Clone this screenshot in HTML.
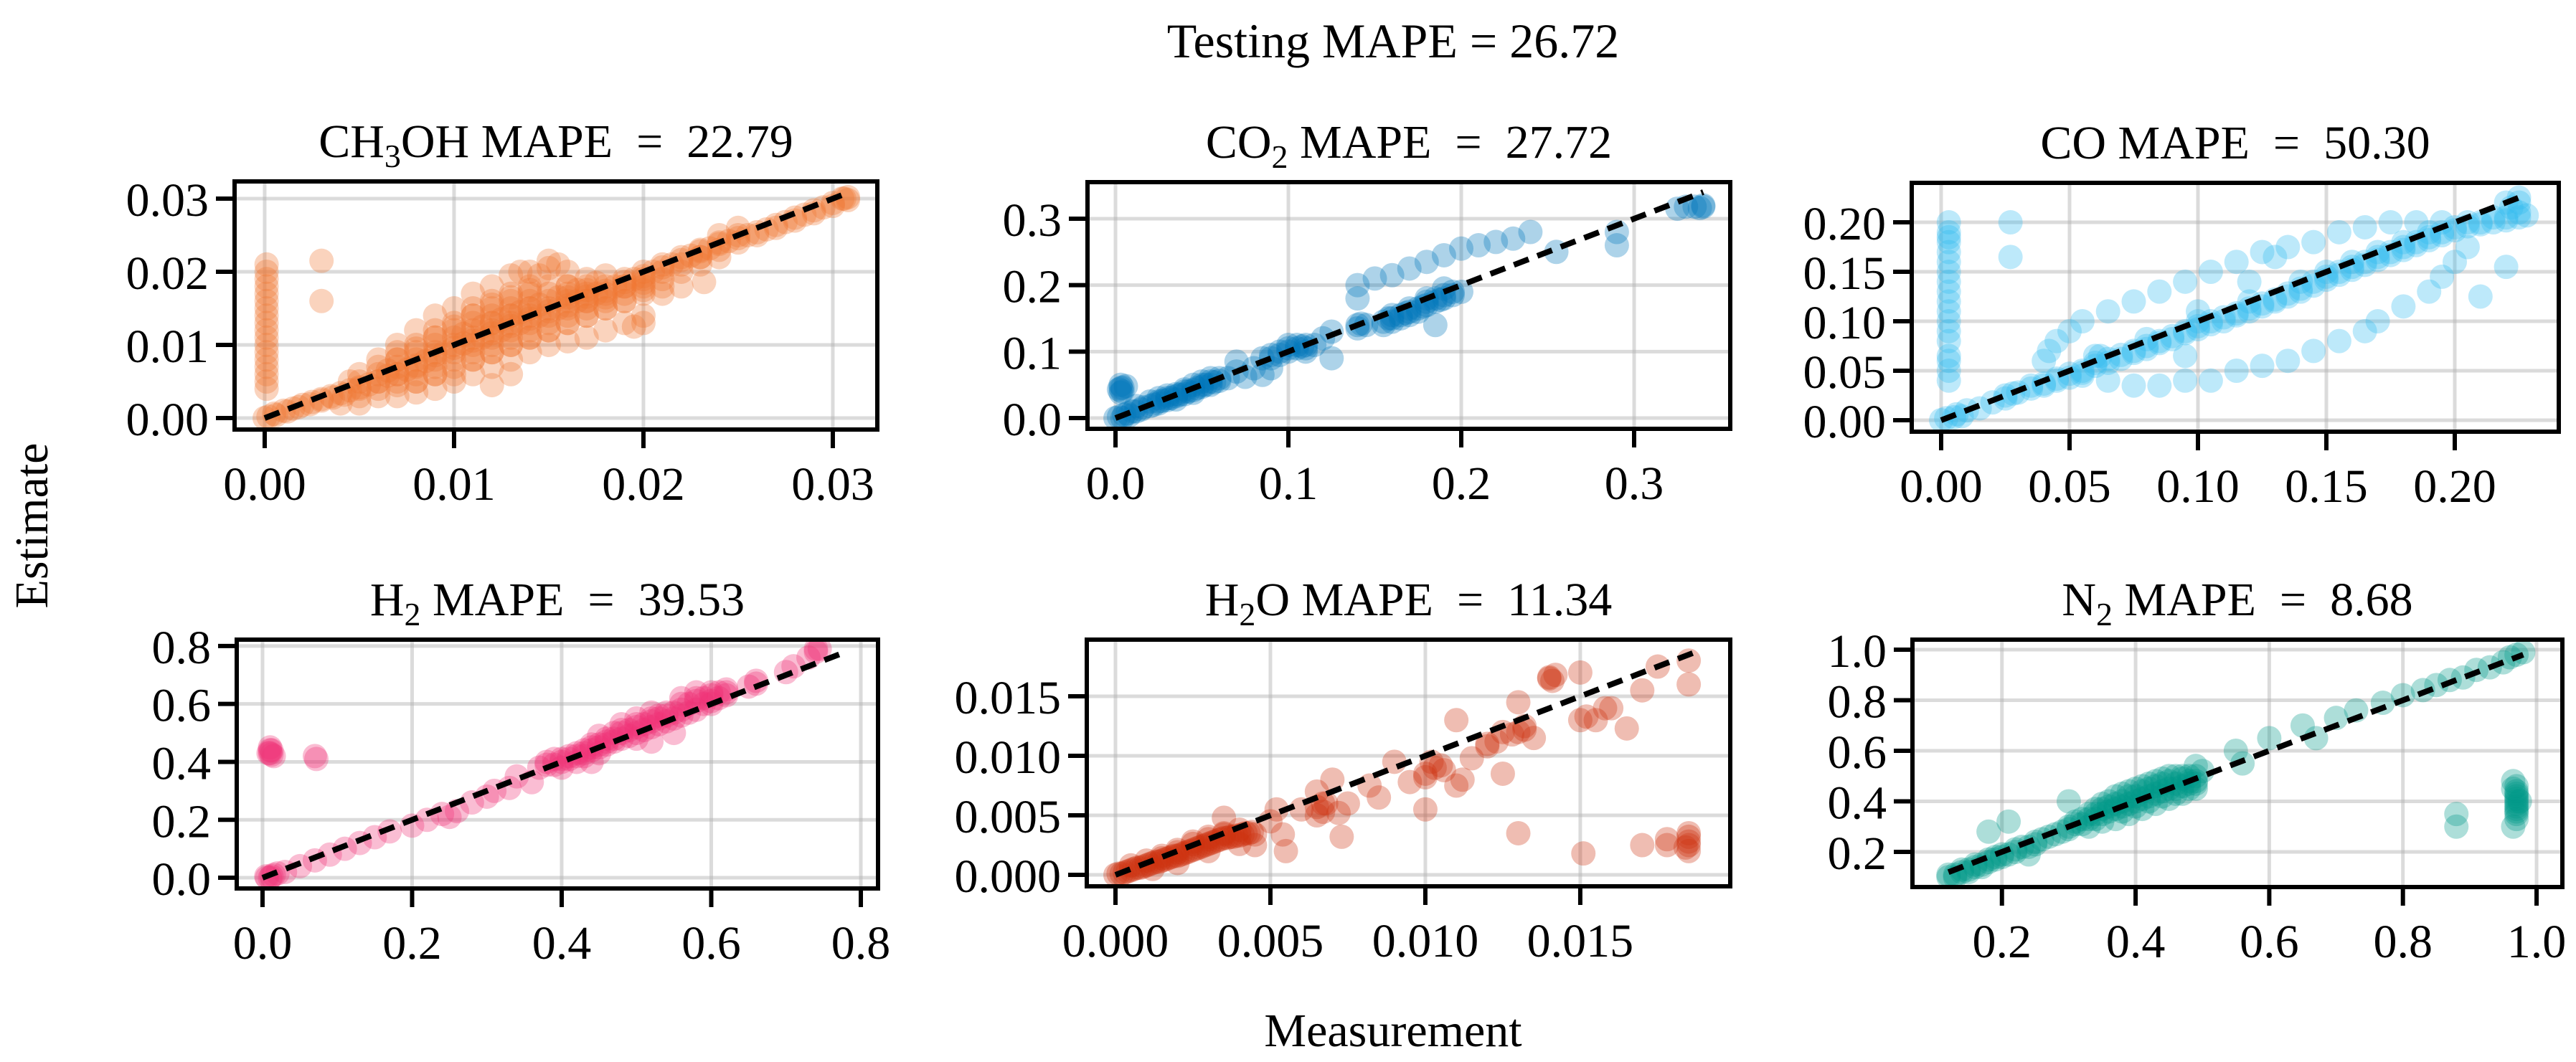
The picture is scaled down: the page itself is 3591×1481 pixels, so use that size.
<!DOCTYPE html>
<html><head><meta charset="utf-8"><style>
html,body{margin:0;padding:0;background:#fff;}
svg{display:block;font-family:"Liberation Serif",serif;}
</style></head><body>
<svg id="fig" width="3591" height="1481" viewBox="0 0 3591 1481" xmlns="http://www.w3.org/2000/svg">
<text x="1942" y="80" font-size="68" text-anchor="middle">Testing MAPE = 26.72</text>
<text x="1942" y="1459" font-size="66" text-anchor="middle">Measurement</text>
<text transform="translate(66,733) rotate(-90)" font-size="66" text-anchor="middle">Estimate</text>
</svg>
<script>
// ---- data ----
const ch3ohPoints = [[0,0],[0.5,0.6],[1,1],[1.5,1.3],[2,1.8],[2.5,2.2],[3,2.6],[3.5,3],[4,3.4],[4.5,3.8],[5,4.2],[5.5,4.6],[6,5],[6.5,5.8],[7,6],[7.5,6.6],[8,7.2],[8.5,7.8],[9,8.6],[9.5,9],[10,9.6],[10.5,10.2],[11,10.6],[11.5,11],[12,11.6],[12.5,12],[13,12.6],[13.5,13],[14,13.6],[14.5,14],[15,14.6],[15.5,15],[16,15.4],[16.5,16],[17,16.6],[17.5,17],[18,17.4],[18.5,18],[19,18.6],[19.5,19],[20,19.4],[20.5,20],[21,20.6],[21.5,21],[22,21.6],[22.5,22.2],[23,22.8],[23.5,23.2],[24,23.8],[24.5,24.2],[25,24.6],[25.5,25],[26,25.4],[26.5,25.8],[27,26.4],[27.5,26.8],[28,27.4],[28.5,27.8],[29,28.4],[29.5,28.8],[30,29.4],[30.5,30],[30.8,30.2],
[0.1,4],[0.1,5],[0.1,6],[0.1,7],[0.1,8],[0.1,9],[0.1,10],[0.1,11],[0.1,12],[0.1,13],[0.1,14],[0.1,15],[0.1,16],[0.1,17],[0.1,18],[0.1,19],[0.1,20],[0.1,21],[3,21.5],[3,16],
[6,8],[7,10],[8,12],[9,14],[10,15],[11,17],[12,18],[13,19.5],[14,20],[15,21.5],[15.5,21],[16,20],[17,19],[18,19.5],[19,18],[20,18.5],[9,11],[10,12.5],[11,14],[12,15.5],[13,16.5],[14,17.5],[15,18],[16,18],[17,17.5],[18,16.5],[8,9.5],[7,8],[6.5,6.5],[12,13],[13,14],[14,15],[16,16.5],[17,16],[20,17.5],[21,18],[22,18],[23,22],[23.2,18.6],
[6,3],[7,3],[8,3.5],[9,4],[10,5],[11,6],[12,7],[13,8],[14,9],[15,10],[16,10.5],[17,11],[18,12],[19,13],[20,14],[10,7],[11,8],[12,9],[13,10],[14,11],[15,12],[16,13],[17,14],[18,15],[19,16],[21,17],[12,4.5],[13,6],[8,5],[9,6],[7,4.5],[5,2],[4,2],[4.5,5],[19.5,12.5],[20,13]];
const ch3ohCorePoints = [[0.2,0.2],[0.6,0.4],[1.2,0.9],[1.8,1.5],[2.4,1.9],[3,2.4],[3.6,2.8],[4.2,3.2],[5,3],[5,4],[5,5],[5,6],[6,4],[6,5],[6,6],[6,7],[7,5],[7,6],[7,7],[7,8],[7,9],[8,5],[8,6],[8,7],[8,8],[8,9],[8,10],[9,6],[9,7],[9,8],[9,9],[9,10],[9,11],[9,12],[10,6],[10,8],[10,9],[10,10],[10,11],[10,12],[10,13],[11,8],[11,9],[11,10],[11,11],[11,12],[11,13],[11,14],[11,15],[12,9],[12,10],[12,11],[12,12],[12,13],[12,14],[12,15],[12,16],[13,10],[13,11],[13,12],[13,13],[13,14],[13,15],[13,16],[13,17],[14,11],[14,12],[14,13],[14,14],[14,15],[14,16],[14,17],[14,18],[15,12],[15,13],[15,14],[15,15],[15,16],[15,17],[16,13],[16,14],[16,15],[16,16],[16,17],[16,18],[17,14],[17,15],[17,16],[17,17],[17,18],[18,15],[18,16],[18,17],[18,18],[19,16],[19,17],[19,18],[19,19],[20,17],[20,18],[20,19],[20,20],[21,19],[21,20],[21,21],[22,20],[22,21],[22,22],[23,21],[23,22],[23,23],[24,22],[24,23],[24,24],[24,25],[25,24],[25,25],[25,26],[26,25],[27,26],[28,27],[29,28],[30,29],[30.6,30],[30.8,29.8],[10.5,11.5],[11.5,12.5],[12.5,13.5],[13.5,14.5],[14.5,15.5],[15.5,16.5],[16.5,17.5],[17.5,18.5],[14.5,19.5],[15,20.5],[13.5,20]];
const co2Points = [[0,0],[0.003,0.045],[0.004,0.04],[0.006,0.048],[0.005,0.005],[0.01,0.01],[0.015,0.013],[0.02,0.018],[0.025,0.022],[0.03,0.027],[0.035,0.033],[0.04,0.036],[0.045,0.042],[0.05,0.047],[0.055,0.05],[0.06,0.056],[0.02,0.025],[0.03,0.034],[0.04,0.043],[0.05,0.055],[0.055,0.06],[0.045,0.05],[0.035,0.028],[0.025,0.03],[0.012,0.018],[0.008,0.004],[0.065,0.06],[0.07,0.07],[0.075,0.062],[0.07,0.085],[0.08,0.075],[0.085,0.09],[0.09,0.095],[0.095,0.1],[0.1,0.1],[0.105,0.105],[0.11,0.11],[0.1,0.11],[0.11,0.1],[0.115,0.11],[0.12,0.12],[0.125,0.09],[0.125,0.13],[0.14,0.14],[0.145,0.14],[0.14,0.18],[0.14,0.2],[0.15,0.21],[0.16,0.215],[0.17,0.225],[0.18,0.235],[0.19,0.245],[0.2,0.255],[0.21,0.26],[0.22,0.265],[0.23,0.27],[0.24,0.28],[0.155,0.14],[0.16,0.145],[0.165,0.15],[0.17,0.155],[0.175,0.16],[0.18,0.17],[0.185,0.175],[0.19,0.18],[0.195,0.185],[0.2,0.19],[0.16,0.155],[0.17,0.165],[0.18,0.18],[0.19,0.195],[0.185,0.14],[0.255,0.25],[0.29,0.28],[0.29,0.26],[0.33,0.318],[0.335,0.318],[0.34,0.318],[0.325,0.315],[0.085,0.065],[0.09,0.075]];
const co2CorePoints = [[0.002,0.043],[0.003,0.05],[0.004,0.046],[0.003,0.038],[0.002,0.002],[0.004,0.0],[0.007,0.007],[0.012,0.01],[0.016,0.016],[0.022,0.02],[0.027,0.026],[0.032,0.03],[0.037,0.035],[0.042,0.04],[0.047,0.045],[0.052,0.05],[0.057,0.054],[0.06,0.06],[0.045,0.038],[0.04,0.04],[0.035,0.036],[0.03,0.03],[0.025,0.025],[0.05,0.05],[0.055,0.055],[0.09,0.09],[0.095,0.095],[0.1,0.105],[0.105,0.11],[0.11,0.105],[0.108,0.108],[0.14,0.135],[0.142,0.142],[0.155,0.145],[0.16,0.15],[0.165,0.155],[0.17,0.16],[0.175,0.165],[0.18,0.175],[0.185,0.18],[0.19,0.185],[0.195,0.19],[0.158,0.15],[0.168,0.158],[0.178,0.168],[0.188,0.178],[0.34,0.32],[0.338,0.316]];
const coPoints = [[0.003,0.04],[0.003,0.05],[0.003,0.06],[0.003,0.065],[0.003,0.08],[0.003,0.09],[0.003,0.1],[0.003,0.11],[0.003,0.12],[0.003,0.13],[0.003,0.14],[0.003,0.15],[0.003,0.16],[0.003,0.17],[0.003,0.18],[0.003,0.185],[0.003,0.19],[0.003,0.2],[0.027,0.2],[0.027,0.165],
[0,0],[0.005,0.003],[0.01,0.01],[0.015,0.012],[0.02,0.018],[0.025,0.025],[0.03,0.028],[0.035,0.032],[0.04,0.037],[0.045,0.042],[0.05,0.047],[0.055,0.05],[0.06,0.058],[0.065,0.062],[0.07,0.066],[0.075,0.07],[0.08,0.075],[0.085,0.08],[0.09,0.085],[0.095,0.09],[0.1,0.095],[0.105,0.1],[0.11,0.104],[0.115,0.108],[0.12,0.113],[0.125,0.118],[0.13,0.122],[0.135,0.128],[0.14,0.133],[0.145,0.14],[0.15,0.145],[0.155,0.15],[0.16,0.155],[0.165,0.16],[0.17,0.165],[0.175,0.17],[0.18,0.175],[0.185,0.18],[0.19,0.185],[0.195,0.19],[0.2,0.195],[0.205,0.2],[0.21,0.2],[0.215,0.205],[0.22,0.205],[0.225,0.21],[0.225,0.22],[0.22,0.22],[0.06,0.065],[0.1,0.1],[0.14,0.14],[0.08,0.082],[0.12,0.12],
[0.04,0.06],[0.042,0.07],[0.045,0.08],[0.05,0.09],[0.055,0.1],[0.065,0.11],[0.075,0.12],[0.085,0.13],[0.095,0.14],[0.105,0.15],[0.115,0.16],[0.125,0.17],[0.135,0.175],[0.145,0.18],[0.155,0.19],[0.165,0.195],[0.175,0.2],[0.185,0.2],[0.195,0.2],
[0.055,0.045],[0.065,0.04],[0.075,0.035],[0.085,0.035],[0.095,0.04],[0.105,0.04],[0.115,0.05],[0.125,0.055],[0.135,0.06],[0.145,0.07],[0.155,0.08],[0.165,0.09],[0.17,0.1],[0.18,0.115],[0.19,0.13],[0.195,0.145],[0.2,0.16],[0.205,0.175],
[0.22,0.155],[0.21,0.125],[0.095,0.065],[0.1,0.11],[0.12,0.14],[0.13,0.165]];
const coCorePoints = [[0.002,0.002],[0.006,0.006],[0.008,0.004],[0.025,0.022],[0.028,0.027],[0.035,0.035],[0.04,0.035],[0.045,0.04],[0.05,0.043],[0.055,0.048],[0.06,0.055],[0.062,0.065],[0.065,0.058],[0.07,0.062],[0.075,0.068],[0.08,0.072],[0.085,0.078],[0.09,0.082],[0.095,0.088],[0.1,0.092],[0.105,0.097],[0.11,0.1],[0.115,0.106],[0.12,0.11],[0.125,0.115],[0.13,0.12],[0.135,0.125],[0.14,0.13],[0.145,0.136],[0.15,0.142],[0.155,0.147],[0.16,0.152],[0.165,0.157],[0.17,0.162],[0.175,0.167],[0.18,0.172],[0.185,0.177],[0.19,0.182],[0.195,0.187],[0.2,0.192],[0.205,0.196],[0.21,0.198],[0.215,0.2],[0.22,0.202],[0.225,0.205],[0.228,0.207],[0.222,0.215],[0.225,0.225],[0.15,0.15],[0.16,0.16],[0.17,0.17],[0.18,0.18],[0.19,0.19]];
const h2Points = [[0.01,0.43],[0.012,0.44],[0.015,0.42],[0.01,0.45],[0.07,0.42],[0.072,0.41],[0.005,0.005],[0.01,0.0],[0.015,0.01],[0.02,0.015],[0.03,0.02],[0.05,0.04],[0.07,0.06],[0.09,0.08],[0.11,0.1],[0.13,0.12],[0.15,0.14],[0.17,0.16],[0.2,0.18],[0.22,0.2],[0.24,0.22],[0.25,0.21],[0.26,0.23],[0.28,0.26],[0.3,0.28],[0.31,0.3],[0.33,0.31],[0.34,0.35],[0.36,0.33],[0.37,0.38],[0.38,0.4],[0.39,0.39],[0.4,0.41],[0.41,0.42],[0.42,0.43],[0.43,0.44],[0.44,0.45],[0.45,0.46],[0.46,0.47],[0.47,0.48],[0.48,0.5],[0.49,0.51],[0.5,0.52],[0.51,0.53],[0.52,0.54],[0.53,0.55],[0.54,0.56],[0.55,0.57],[0.56,0.58],[0.57,0.6],[0.58,0.61],[0.59,0.62],[0.6,0.63],[0.61,0.64],[0.62,0.65],[0.4,0.38],[0.42,0.4],[0.45,0.43],[0.44,0.4],[0.5,0.48],[0.52,0.47],[0.55,0.5],[0.53,0.56],[0.5,0.55],[0.45,0.49],[0.48,0.53],[0.56,0.62],[0.58,0.64],[0.6,0.6],[0.62,0.63],[0.65,0.66],[0.66,0.68],[0.7,0.71],[0.71,0.73],[0.73,0.76],[0.74,0.78],[0.745,0.79],[0.43,0.42],[0.47,0.5],[0.52,0.57]];
const h2CorePoints = [[0.008,0.43],[0.012,0.425],[0.01,0.44],[0.006,0.0],[0.012,0.005],[0.38,0.39],[0.39,0.41],[0.4,0.4],[0.41,0.41],[0.42,0.42],[0.43,0.43],[0.44,0.44],[0.45,0.45],[0.46,0.46],[0.47,0.47],[0.48,0.48],[0.49,0.49],[0.5,0.5],[0.51,0.51],[0.52,0.52],[0.53,0.53],[0.54,0.54],[0.55,0.55],[0.56,0.56],[0.57,0.57],[0.58,0.58],[0.59,0.6],[0.6,0.61],[0.61,0.62],[0.62,0.64],[0.44,0.46],[0.46,0.48],[0.48,0.51],[0.5,0.53],[0.52,0.55],[0.54,0.57],[0.56,0.6],[0.58,0.62],[0.6,0.64],[0.66,0.67],[0.74,0.79]];
const h2oPoints = [[0,0],[0.2,0.1],[0.4,0.3],[0.6,0.5],[0.8,0.6],[1,0.8],[1.2,1],[1.4,1.1],[1.6,1.3],[1.8,1.5],[2,1.6],[2.2,1.8],[2.4,2],[2.6,2.2],[2.8,2.4],[3,2.6],[3.2,2.8],[3.4,3],[3.6,3.1],[3.8,3.2],[4,3.3],[4.2,3.5],[4.4,3.6],[0.5,0.8],[1,1.2],[1.5,1.6],[2,2.1],[2.5,2.6],[3,3],[3.5,3.5],[1.2,0.5],[2,1],[3,2],[4,2.6],
[3.5,4.8],[4.5,2.5],[5,4.5],[5.5,2],[5.4,3.4],[5.2,5.5],[6,5.5],[6.5,5],[6.5,7],[6.7,6],[7,8],[7.2,5.2],[7.5,6],[7.3,3.2],[8.2,7.5],[8.5,6.5],[9,9.5],[9.5,7.8],[10,8.5],[10.2,9.5],[10.5,9.2],[11,7.5],[11.5,9.8],[11,13],[12,11],[12.5,12],[13,12],[13.5,11.5],[12.5,8.5],[12,10.8],[13,14.5],[14,16.5],[14.2,16.8],[15,13],[15,17],[15.5,13],[16,14],[16.5,12.3],[17,15.5],[17.5,17.5],[18.5,16],[18.5,18],[10,5.5],[13,3.5],[15.1,1.8],[17,2.5],[17.8,3],[17.8,2.5],[18.5,3.5],[18.5,2.5],[18.5,2]];
const h2oCorePoints = [[0.1,0.1],[0.3,0.2],[0.5,0.4],[0.7,0.6],[0.9,0.7],[1.1,0.9],[1.3,1.1],[1.5,1.2],[1.7,1.4],[1.9,1.6],[2.1,1.7],[2.3,1.9],[2.5,2.1],[2.7,2.3],[2.9,2.5],[3.1,2.7],[3.3,2.9],[3.5,3.1],[3.7,3.2],[3.9,3.3],[4.1,3.4],[4.3,3.5],[4.5,3.4],[2.5,2.8],[3,3.2],[3.5,3.4],[4,3.8],[1.5,1.4],[2,1.9],[6.5,5.7],[6.7,5.3],[6.8,6],[10,8.2],[10.3,9],[10.6,8.8],[11.2,8],[12.3,11.2],[12.8,11.8],[13.2,12.5],[14,16.6],[14.1,16.3],[15.2,13.3],[15.8,14],[18.5,2.8],[18.5,3.2],[18.4,2.3],[13.2,12.2]];
const n2Points = [[0.12,0.1],[0.13,0.11],[0.14,0.12],[0.15,0.13],[0.16,0.14],[0.17,0.15],[0.18,0.17],[0.19,0.18],[0.2,0.19],[0.22,0.2],[0.24,0.22],[0.25,0.24],[0.26,0.25],[0.28,0.27],[0.3,0.29],[0.31,0.31],[0.32,0.33],[0.33,0.35],[0.34,0.37],[0.35,0.39],[0.36,0.4],[0.37,0.42],[0.38,0.43],[0.39,0.44],[0.4,0.45],[0.41,0.46],[0.42,0.47],[0.43,0.48],[0.44,0.49],[0.45,0.5],[0.46,0.5],[0.47,0.5],[0.48,0.5],[0.49,0.5],[0.33,0.3],[0.35,0.32],[0.37,0.33],[0.39,0.35],[0.41,0.37],[0.43,0.39],[0.45,0.41],[0.47,0.43],[0.49,0.45],[0.36,0.36],[0.4,0.4],[0.44,0.44],[0.48,0.47],[0.38,0.38],[0.42,0.42],[0.34,0.33],[0.46,0.45],[0.18,0.28],[0.21,0.32],[0.3,0.4],[0.24,0.19],[0.49,0.54],[0.5,0.52],[0.55,0.6],[0.56,0.55],[0.6,0.65],[0.65,0.7],[0.67,0.65],[0.7,0.73],[0.73,0.76],[0.77,0.79],[0.8,0.82],[0.83,0.84],[0.85,0.86],[0.87,0.88],[0.89,0.89],[0.91,0.92],[0.93,0.93],[0.95,0.95],[0.97,0.98],[0.98,0.99],[0.96,0.97],[0.88,0.35],[0.88,0.3],[0.965,0.3],[0.97,0.33],[0.97,0.36],[0.97,0.38],[0.97,0.4],[0.97,0.42],[0.97,0.44],[0.97,0.46],[0.965,0.48],[0.97,0.35]];
const n2CorePoints = [[0.12,0.11],[0.13,0.1],[0.14,0.13],[0.15,0.12],[0.16,0.15],[0.17,0.14],[0.18,0.16],[0.19,0.17],[0.2,0.18],[0.21,0.19],[0.22,0.21],[0.23,0.22],[0.25,0.23],[0.27,0.26],[0.29,0.28],[0.3,0.3],[0.31,0.32],[0.32,0.31],[0.33,0.33],[0.34,0.35],[0.35,0.35],[0.35,0.37],[0.36,0.38],[0.37,0.37],[0.37,0.39],[0.38,0.4],[0.38,0.36],[0.39,0.39],[0.39,0.42],[0.4,0.42],[0.4,0.38],[0.41,0.41],[0.41,0.44],[0.42,0.45],[0.42,0.4],[0.43,0.43],[0.43,0.46],[0.44,0.47],[0.44,0.42],[0.45,0.45],[0.45,0.48],[0.46,0.47],[0.46,0.43],[0.47,0.46],[0.47,0.49],[0.48,0.48],[0.48,0.45],[0.49,0.48],[0.49,0.47],[0.97,0.37],[0.97,0.39],[0.97,0.41],[0.97,0.43],[0.965,0.45],[0.975,0.4]];

const ch3ohTicks = [0,10,20,30];
const ch3ohTickLabels = ["0.00","0.01","0.02","0.03"];
const co2Ticks = [0,0.1,0.2,0.3];
const co2TickLabels = ["0.0","0.1","0.2","0.3"];
const coTicks = [0,0.05,0.1,0.15,0.2];
const coTickLabels = ["0.00","0.05","0.10","0.15","0.20"];
const h2Ticks = [0,0.2,0.4,0.6,0.8];
const h2TickLabels = ["0.0","0.2","0.4","0.6","0.8"];
const h2oXTicks = [0,5,10,15];
const h2oXTickLabels = ["0.000","0.005","0.010","0.015"];
const h2oYTicks = [0,5,10,15];
const h2oYTickLabels = ["0.000","0.005","0.010","0.015"];
const n2XTicks = [0.2,0.4,0.6,0.8,1.0];
const n2XTickLabels = ["0.2","0.4","0.6","0.8","1.0"];
const n2YTicks = [0.2,0.4,0.6,0.8,1.0];
const n2YTickLabels = ["0.2","0.4","0.6","0.8","1.0"];
const identityRanges = [[0,30.5],[0,0.34],[0,0.225],[0,0.775],[0,18.8],[0.12,0.98]];

const EQ = "\u00a0MAPE\u00a0\u00a0=\u00a0\u00a0";
const panels = [
 {name:"ch3oh",title:["CH","3","OH"+EQ+"22.79"],color:"#EE7733",pts:ch3ohPoints.concat(ch3ohCorePoints),box:[327,253,1223,599],xd:[-1.59,32.35],yd:[-1.57,32.35],xt:ch3ohTicks,xl:ch3ohTickLabels,yt:ch3ohTicks,yl:ch3ohTickLabels,line:identityRanges[0]},
 {name:"co2",title:["CO","2",EQ+"27.72"],color:"#0077BB",pts:co2Points.concat(co2CorePoints),box:[1516,254,2412,598],xd:[-0.0162,0.3556],yd:[-0.0162,0.355],xt:co2Ticks,xl:co2TickLabels,yt:co2Ticks,yl:co2TickLabels,line:identityRanges[1]},
 {name:"co",title:["CO"+EQ+"50.30","",""],color:"#33BBEE",pts:coPoints.concat(coCorePoints),box:[2665,255,3567,602],xd:[-0.01145,0.2405],yd:[-0.0116,0.2399],xt:coTicks,xl:coTickLabels,yt:coTicks,yl:coTickLabels,line:identityRanges[2]},
 {name:"h2",title:["H","2",EQ+"39.53"],color:"#EE3377",pts:h2Points.concat(h2CorePoints),box:[330,892,1224,1239],xd:[-0.0345,0.823],yd:[-0.037,0.822],xt:h2Ticks,xl:h2TickLabels,yt:h2Ticks,yl:h2TickLabels,line:identityRanges[3]},
 {name:"h2o",title:["H","2","O"+EQ+"11.34"],color:"#CC3311",pts:h2oPoints.concat(h2oCorePoints),box:[1515,892,2412,1236],xd:[-0.926,19.84],yd:[-0.96,19.76],xt:h2oXTicks,xl:h2oXTickLabels,yt:h2oYTicks,yl:h2oYTickLabels,line:identityRanges[4]},
 {name:"n2",title:["N","2",EQ+"8.68"],color:"#009988",pts:n2Points.concat(n2CorePoints),box:[2666,892,3572,1237],xd:[0.0661,1.0386],yd:[0.061,1.0397],xt:n2XTicks,xl:n2XTickLabels,yt:n2YTicks,yl:n2YTickLabels,line:identityRanges[5]}
];

const NS="http://www.w3.org/2000/svg";
const svg=document.getElementById('fig');
function mk(tag,attrs,parent){const e=document.createElementNS(NS,tag);for(const k in attrs)e.setAttribute(k,attrs[k]);parent.appendChild(e);return e;}

panels.forEach(p=>{
  const [x0,y0,x1,y1]=p.box;
  const sx=v=>x0+(v-p.xd[0])/(p.xd[1]-p.xd[0])*(x1-x0);
  const sy=v=>y1-(v-p.yd[0])/(p.yd[1]-p.yd[0])*(y1-y0);
  const g=mk('g',{},svg);
  
  
  const clipId='clip-'+p.name;
  const cp=mk('clipPath',{id:clipId},g);
  mk('rect',{x:x0,y:y0,width:x1-x0,height:y1-y0},cp);
  const grid=mk('g',{stroke:'#b0b0b0','stroke-opacity':'0.45','stroke-width':'5'},g);
  
  
  p.xt.forEach(v=>mk('line',{x1:sx(v),x2:sx(v),y1:y0,y2:y1},grid));
  p.yt.forEach(v=>mk('line',{x1:x0,x2:x1,y1:sy(v),y2:sy(v)},grid));
  const pg=mk('g',{'clip-path':'url(#'+clipId+')',fill:p.color,'fill-opacity':'0.32'},g);
  
  
  p.pts.forEach(d=>{
    const c=mk('circle',{cx:sx(d[0]),cy:sy(d[1]),r:17},pg);
    
    
  });
  const ln=mk('line',{x1:sx(p.line[0]),y1:sy(p.line[0]),x2:sx(p.line[1]),y2:sy(p.line[1]),stroke:'#000','stroke-width':'8','stroke-dasharray':'22 13'},g);
  
  
  const fr=mk('rect',{x:x0,y:y0,width:x1-x0,height:y1-y0,fill:'none',stroke:'#000','stroke-width':'6'},g);
  
  
  p.xt.forEach((v,i)=>{
    mk('line',{x1:sx(v),x2:sx(v),y1:y1,y2:y1+26,stroke:'#000','stroke-width':'6'},g);
    const t=mk('text',{x:sx(v),y:y1+98,'font-size':'66','text-anchor':'middle'},g);
    t.textContent=p.xl[i];
    
    
  });
  p.yt.forEach((v,i)=>{
    mk('line',{x1:x0-26,x2:x0,y1:sy(v),y2:sy(v),stroke:'#000','stroke-width':'6'},g);
    const t=mk('text',{x:x0-36,y:sy(v)+24,'font-size':'66','text-anchor':'end'},g);
    t.textContent=p.yl[i];
    
    
  });
  const tt=mk('text',{x:(x0+x1)/2,y:y0-34,'font-size':'66','text-anchor':'middle'},g);
  
  
  const a=mk('tspan',{},tt);a.textContent=p.title[0];
  if(p.title[1]){
    const s=mk('tspan',{dy:'14','font-size':'46'},tt);s.textContent=p.title[1];
    const r=mk('tspan',{dy:'-14'},tt);r.textContent=p.title[2];
  }
});
</script>
</body></html>
